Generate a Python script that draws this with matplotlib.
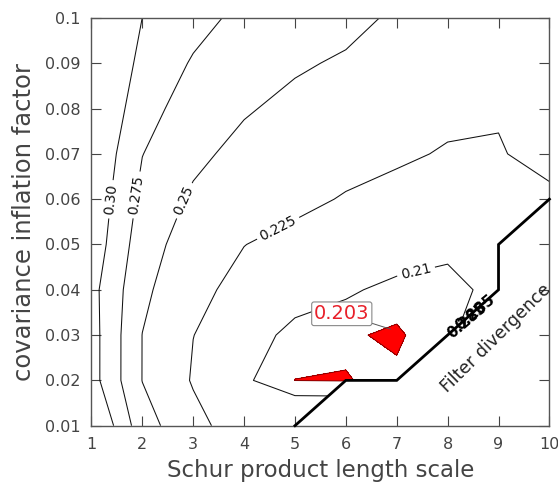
import numpy as np
import matplotlib
matplotlib.use('Agg')
import matplotlib.pyplot as plt

# Schur product length scale (x) and covariance inflation factor (y)
length_scale = [1, 2, 3, 4, 5, 6, 7, 8, 9, 10]
inflation = [0.01, 0.02, 0.03, 0.04, 0.05, 0.06, 0.07, 0.08, 0.09, 0.10]

# smallest inflation for which the filter stays stable, per length scale
stable_min = [0.01, 0.01, 0.01, 0.01, 0.01, 0.02, 0.02, 0.03, 0.04, 0.06]

# analysis RMSE, one row per inflation factor (nan = filter diverged)
nan = np.nan
rmse_001 = [0.331, 0.260, 0.2322, 0.2122, 0.224, nan, nan, nan, nan, nan]
rmse_002 = [0.310, 0.2496, 0.2231, 0.2116, 0.2029, 0.2027, 0.2046, nan, nan, nan]
rmse_003 = [0.310, 0.2497, 0.2252, 0.2159, 0.2065, 0.204, 0.2017, 0.209, nan, nan]
rmse_004 = [0.308, 0.2553, 0.2302, 0.219, 0.2157, 0.2116, 0.207, 0.207, 0.213, nan]
rmse_005 = [0.3158, 0.2614, 0.2371, 0.2253, 0.2193, 0.217, 0.217, 0.2123, 0.214, nan]
rmse_006 = [0.3194, 0.2684, 0.2462, 0.234, 0.2297, 0.2236, 0.2205, 0.218, 0.216, 0.2215]
rmse_007 = [0.3235, 0.2755, 0.2557, 0.2427, 0.237, 0.2318, 0.2272, 0.2238, 0.2238, 0.2305]
rmse_008 = [0.332, 0.2835, 0.2646, 0.2524, 0.2435, 0.238, 0.2335, 0.2284, 0.2264, 0.2345]
rmse_009 = [0.3405, 0.2917, 0.2729, 0.262, 0.2532, 0.2468, 0.241, 0.235, 0.231, 0.236]
rmse_010 = [0.350, 0.2999, 0.2825, 0.2693, 0.263, 0.2575, 0.2461, 0.240, 0.236, 0.239]

levels = [0.21, 0.225, 0.25, 0.275, 0.30]
level_text = {0.21: '0.21', 0.225: '0.225', 0.25: '0.25', 0.275: '0.275', 0.30: '0.30'}
best_level = 0.203

X, Y = np.meshgrid(length_scale, inflation)
Z = np.array([rmse_001, rmse_002, rmse_003, rmse_004, rmse_005,
              rmse_006, rmse_007, rmse_008, rmse_009, rmse_010])
Z = np.ma.masked_invalid(Z)

fig = plt.figure(figsize=(5.58, 4.87), dpi=100)
ax = fig.add_axes([0.1638, 0.1259, 0.8208, 0.8372])

# region below the best RMSE
ax.contourf(X, Y, Z, levels=[0.0, best_level], colors=['red'], corner_mask=True)
ax.contour(X, Y, Z, levels=[best_level], colors=['#700000'], linewidths=0.6,
           corner_mask=True)

cs = ax.contour(X, Y, Z, levels=levels, colors='#111111', linewidths=0.75,
                corner_mask=True)
ax.clabel(cs, fmt=level_text, fontsize=10, inline=True, inline_spacing=4,
          manual=[(1.36, 0.060), (1.85, 0.061), (2.75, 0.060),
                  (4.65, 0.054), (7.38, 0.044)])

# divergence boundary along the lowest stable inflation
bx, by = [], []
for i, (xs, s) in enumerate(zip(length_scale, stable_min)):
    if i > 0 and round((s - stable_min[i - 1]) / 0.01) > 1:
        bx.append(length_scale[i - 1])
        by.append(s - 0.01)
    bx.append(xs)
    by.append(s)
start = max(k for k in range(len(by)) if by[k] == stable_min[0])
ax.plot(bx[start:], by[start:], color='black', lw=2.0, solid_joinstyle='miter',
        clip_on=False, zorder=3)

ax.text(8.38, 0.0333, '0.285', fontsize=10.5, fontweight='bold', rotation=40,
        ha='center', va='center', zorder=4)
ax.text(8.55, 0.0350, '0.285', fontsize=10.5, fontweight='bold', rotation=40,
        ha='center', va='center', zorder=4)

ax.annotate('0.203', xy=(6.88, 0.0313), xytext=(5.92, 0.0347),
            color='#e8202a', fontsize=14, ha='center', va='center',
            bbox=dict(boxstyle='round,pad=0.12', fc='white', ec='#888888', lw=0.8),
            arrowprops=dict(arrowstyle='-', color='#555555', lw=0.7,
                            shrinkA=0, shrinkB=0))

ax.text(8.95, 0.0292, 'Filter divergence', fontsize=12.5, rotation=44.5,
        ha='center', va='center', color='#222222')

ax.set_xlim(1, 10)
ax.set_ylim(0.01, 0.1)
ax.set_xticks(length_scale)
ax.set_yticks(inflation)
ax.set_yticklabels(['0.01', '0.02', '0.03', '0.04', '0.05', '0.06', '0.07',
                    '0.08', '0.09', '0.1'])
ax.tick_params(direction='in', length=7, width=0.8, top=True, right=True,
               labelsize=11.5, colors='#444444', pad=8)
for sp in ax.spines.values():
    sp.set_color('#555555')
    sp.set_linewidth(1.0)
ax.set_xlabel('Schur product length scale', fontsize=16.5, color='#444444',
              labelpad=5)
ax.set_ylabel('covariance inflation factor', fontsize=17.5, color='#444444',
              labelpad=6)

fig.savefig('out.png', dpi=100)
